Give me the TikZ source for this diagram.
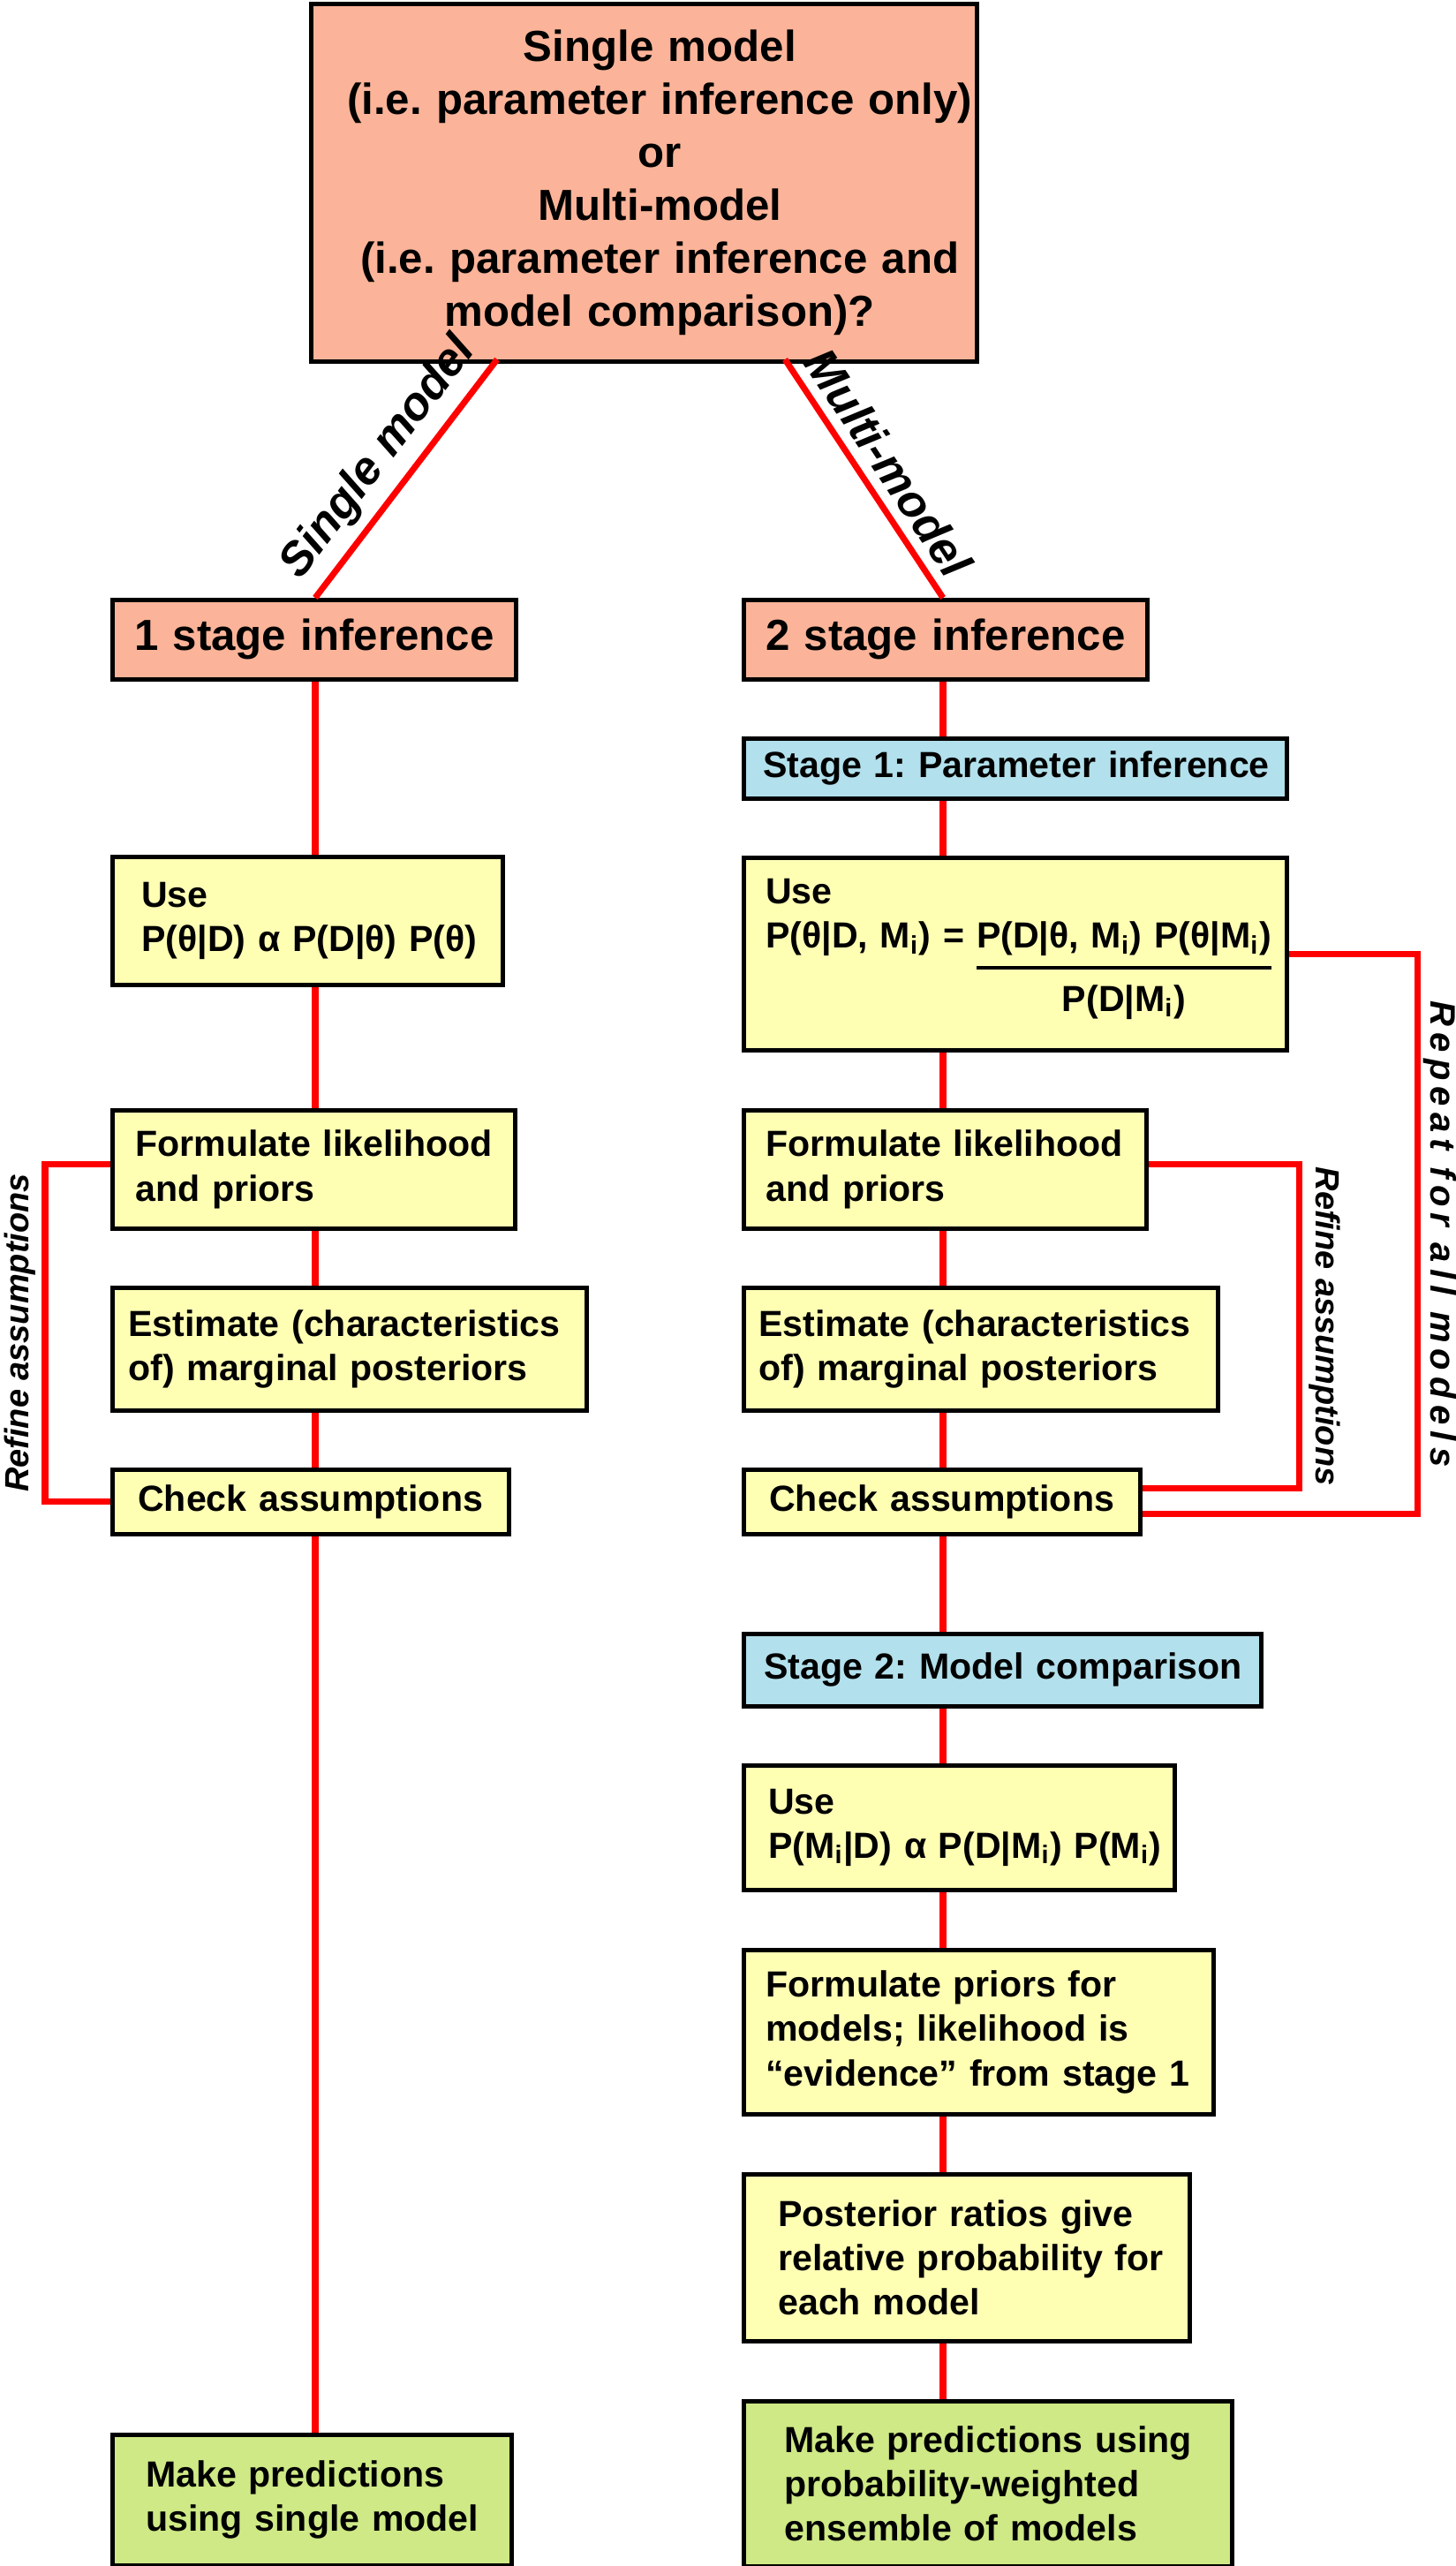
\documentclass[tikz,border=0pt]{standalone}
\usepackage{fontspec}
\setmainfont{Liberation Sans}
\newfontfamily\spacedfont[LetterSpace=18]{Liberation Sans}
\frenchspacing
\definecolor{choicefill}{RGB}{251,180,153}
\definecolor{stepfill}{RGB}{255,255,180}
\definecolor{stagefill}{RGB}{178,224,236}
\definecolor{resultfill}{RGB}{206,233,133}
\newcommand{\bigtext}{\fontsize{14}{17.1}\selectfont\bfseries}
\newcommand{\boxtext}{\fontsize{11.7}{14.3}\selectfont\bfseries}
\newcommand{\labeltext}{\fontsize{15}{18}\selectfont\bfseries\itshape}
\newcommand{\sidetext}{\fontsize{10.8}{13}\selectfont\bfseries\itshape}
\newcommand{\repeattext}{\spacedfont\fontsize{11.4}{13}\selectfont\bfseries\itshape}
\renewcommand{\arraystretch}{1.35}
\setlength{\arrayrulewidth}{1pt}
\tikzstyle{flowbox}=[draw, line width=1.3pt, anchor=north west, inner xsep=0pt, inner ysep=0pt]
\tikzstyle{choice}=[flowbox, fill=choicefill, align=center, font=\bigtext]
\tikzstyle{stepbox}=[flowbox, fill=stepfill, align=left, font=\boxtext]
\tikzstyle{stagebox}=[stepbox, fill=stagefill]
\tikzstyle{result}=[stepbox, fill=resultfill]
\tikzstyle{connector}=[red, line width=2pt]
\tikzstyle{looplabel}=[text=black, anchor=south, pos=0.25, inner sep=2pt, font=\sidetext]
\tikzset{textindent/.style={execute at begin node={\leftskip=#1\relax}}}

\begin{document}
\begin{tikzpicture}
      \useasboundingbox (0,0) rectangle (16.49,-29.06);
      \coordinate (spineL) at (3.57,0);
      \coordinate (spineR) at (10.68,0);
      \node[choice, text width=7.54cm, minimum height=4.05cm,
          execute at begin node={\leftskip=0.36cm plus 1fil\rightskip=0pt plus 1fil\parfillskip=0pt\relax}] (question) at (3.50,-0.02)
        {Single model\\(i.e. parameter inference only)\\or\\Multi-model\\(i.e. parameter inference and\\model comparison)?};
      \coordinate (splitL) at (5.63,-4.07);
      \coordinate (splitR) at (8.89,-4.07);
      \node[choice, text width=4.57cm, minimum height=0.90cm] (oneStage) at (1.25,-6.77) {1 stage inference};
      \node[choice, text width=4.57cm, minimum height=0.90cm] (twoStage) at (8.40,-6.77) {2 stage inference};

      \node[stepbox, text width=4.42cm, minimum height=1.45cm, textindent=0.33cm] (useL) at (1.25,-9.68)
        {Use\\P(θ|D) α P(D|θ) P(θ)};
      \node[stepbox, text width=4.56cm, minimum height=1.34cm, textindent=0.26cm] (formL) at (1.25,-12.55)
        {Formulate likelihood\\and priors};
      \node[stepbox, text width=5.37cm, minimum height=1.39cm, textindent=0.18cm] (estL) at (1.25,-14.56)
        {Estimate (characteristics\\of) marginal posteriors};
      \node[stepbox, text width=4.49cm, minimum height=0.73cm, textindent=0.29cm] (checkL) at (1.25,-16.62)
        {Check assumptions};
      \node[result, text width=4.52cm, minimum height=1.48cm, textindent=0.38cm] (predL) at (1.25,-27.55)
        {Make predictions\\using single model};

      \node[stagebox, text width=6.15cm, minimum height=0.68cm, textindent=0.22cm] (stageOne) at (8.40,-8.34)
        {Stage 1: Parameter inference};
      \node[stepbox, text width=6.15cm, minimum height=2.18cm, textindent=0.25cm] (useR) at (8.40,-9.69)
        {Use\\P(θ|D, M\textsubscript{i}) = \begin{tabular}[t]{@{}c@{}}P(D|θ, M\textsubscript{i}) P(θ|M\textsubscript{i})\\\hline P(D|M\textsubscript{i})\end{tabular}};
      \node[stepbox, text width=4.56cm, minimum height=1.34cm, textindent=0.25cm] (formR) at (8.40,-12.55)
        {Formulate likelihood\\and priors};
      \node[stepbox, text width=5.37cm, minimum height=1.39cm, textindent=0.17cm] (estR) at (8.40,-14.56)
        {Estimate (characteristics\\of) marginal posteriors};
      \node[stepbox, text width=4.49cm, minimum height=0.73cm, textindent=0.29cm] (checkR) at (8.40,-16.62)
        {Check assumptions};
      \node[stagebox, text width=5.86cm, minimum height=0.82cm, textindent=0.23cm] (stageTwo) at (8.40,-18.48)
        {Stage 2: Model comparison};
      \node[stepbox, text width=4.88cm, minimum height=1.41cm, textindent=0.28cm] (useTwo) at (8.40,-19.97)
        {Use\\P(M\textsubscript{i}|D) α P(D|M\textsubscript{i}) P(M\textsubscript{i})};
      \node[stepbox, text width=5.32cm, minimum height=1.86cm, textindent=0.25cm] (priorTwo) at (8.40,-22.06)
        {Formulate priors for\\models; likelihood is\\“evidence” from stage 1};
      \node[stepbox, text width=5.05cm, minimum height=1.89cm, textindent=0.39cm] (postTwo) at (8.40,-24.60)
        {Posterior ratios give\\relative probability for\\each model};
      \node[result, text width=5.53cm, minimum height=1.87cm, textindent=0.46cm] (predR) at (8.40,-27.17)
        {Make predictions using\\probability-weighted\\ensemble of models};

      \draw[connector] (oneStage.north -| spineL)
        to node[sloped, above, inner sep=3pt, text=black, font=\labeltext] {Single model} (splitL);
      \draw[connector] (splitR)
        to node[sloped, above, inner sep=3pt, text=black, font=\labeltext] {Multi-model} (twoStage.north -| spineR);
      \foreach \a/\b in {oneStage/useL, useL/formL, formL/estL, estL/checkL, checkL/predL}
        \draw[connector] (\a.south -| spineL) -- (\b.north -| spineL);
      \foreach \a/\b in {twoStage/stageOne, stageOne/useR, useR/formR, formR/estR, estR/checkR,
          checkR/stageTwo, stageTwo/useTwo, useTwo/priorTwo, priorTwo/postTwo, postTwo/predR}
        \draw[connector] (\a.south -| spineR) -- (\b.north -| spineR);

      \draw[connector] ([yshift=0.6mm]formL.west) -- ++(-0.74,0)
        |- node[looplabel, rotate=90] {Refine assumptions} (checkL.west);
      \draw[connector] ([yshift=0.6mm]formR.east) -- ++(1.71,0)
        |- node[looplabel, rotate=-90] {Refine assumptions} ([yshift=1.5mm]checkR.east);
      \draw[connector] (useR.east) -- ++(1.46,0)
        |- node[looplabel, rotate=-90, inner sep=1pt, font=\repeattext] {Repeat for all models} ([yshift=-1.4mm]checkR.east);
\end{tikzpicture}
\end{document}
